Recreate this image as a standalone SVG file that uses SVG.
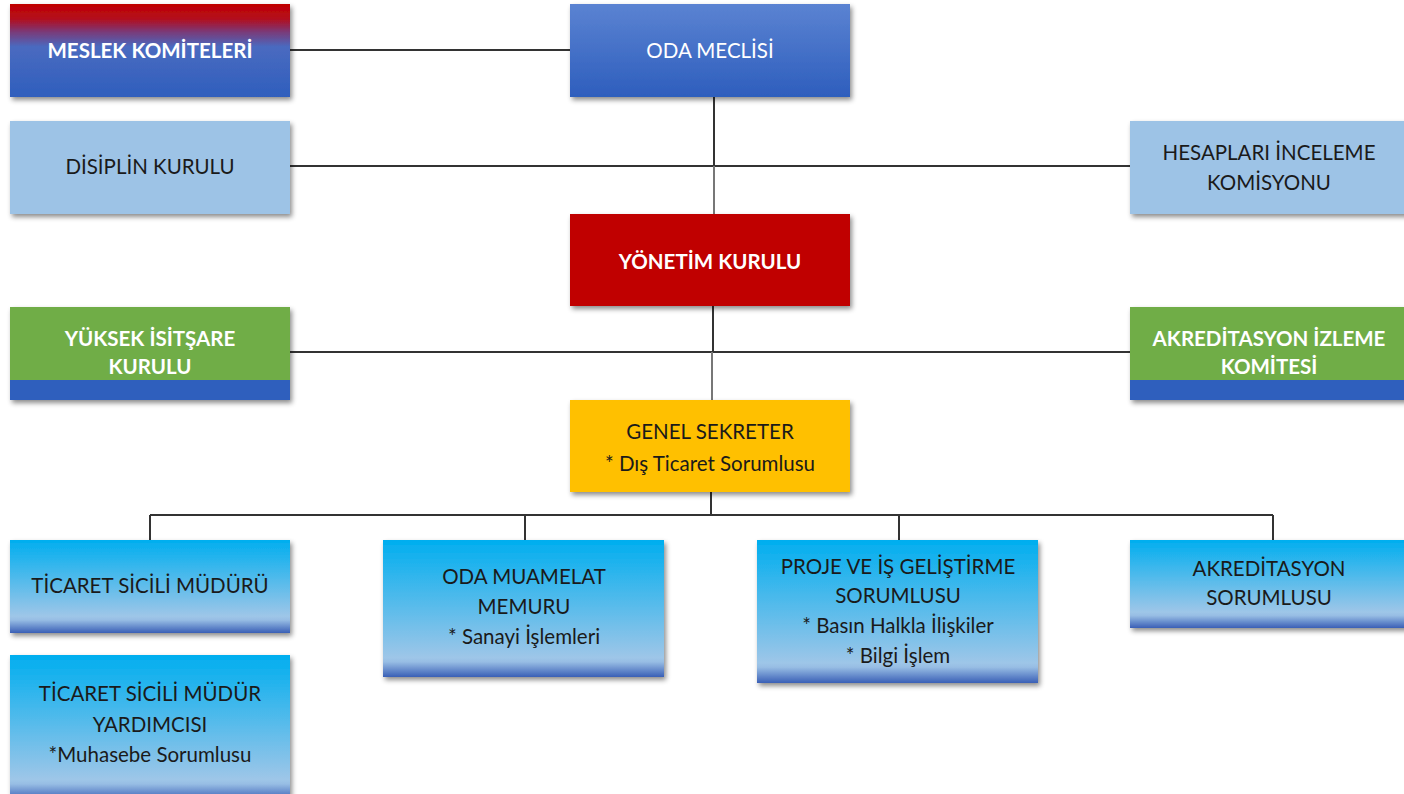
<svg xmlns="http://www.w3.org/2000/svg" width="1404" height="794" viewBox="0 0 1404 794">
<defs>
<linearGradient id="gMeslek" x1="0" y1="0" x2="0" y2="1">
<stop offset="0" stop-color="#c00000"/>
<stop offset="0.16" stop-color="#b30d1d"/>
<stop offset="0.30" stop-color="#7a3a78"/>
<stop offset="0.46" stop-color="#4a6ac0"/>
<stop offset="1" stop-color="#2f5fbd"/>
</linearGradient>
<linearGradient id="gOda" x1="0" y1="0" x2="0" y2="1">
<stop offset="0" stop-color="#5b83d2"/>
<stop offset="1" stop-color="#2e5ebd"/>
</linearGradient>
<linearGradient id="gCyan" x1="0" y1="0" x2="0" y2="1">
<stop offset="0" stop-color="#00aeef"/>
<stop offset="0.82" stop-color="#9ec6e8"/>
<stop offset="0.86" stop-color="#97bde4"/>
<stop offset="1" stop-color="#3a5fb6"/>
</linearGradient>
<linearGradient id="gCyanTall" x1="0" y1="0" x2="0" y2="1">
<stop offset="0" stop-color="#00aeef"/>
<stop offset="0.86" stop-color="#9ec6e8"/>
<stop offset="0.89" stop-color="#97bde4"/>
<stop offset="1" stop-color="#3a5fb6"/>
</linearGradient>
<filter id="sh" x="-5%" y="-10%" width="115%" height="125%">
<feDropShadow dx="2" dy="3" stdDeviation="2.5" flood-color="#000" flood-opacity="0.45"/>
</filter>
</defs>
<style>
.t{font-family:Lato,"Liberation Sans",sans-serif;font-size:20.5px;text-anchor:middle;}
.w{fill:#ffffff;font-weight:bold;}
.wr{fill:#ffffff;}
.d{fill:#1a1a1a;}
.ln{stroke:#333;stroke-width:2;fill:none;}
.lnl{stroke:#777;stroke-width:2;fill:none;}
</style>

<g id="connectors">
<line class="ln" x1="290" y1="50" x2="570" y2="50"/>
<line class="ln" x1="290" y1="166" x2="1130" y2="166"/>
<line class="ln" x1="714" y1="97" x2="714" y2="166" stroke="#111" stroke-width="3"/>
<line class="lnl" x1="714" y1="166" x2="714" y2="214"/>
<line class="ln" x1="290" y1="352" x2="1130" y2="352"/>
<line class="ln" x1="713" y1="306" x2="713" y2="352" stroke-width="3"/>
<line class="lnl" x1="712" y1="352" x2="712" y2="400"/>
<line class="ln" x1="711" y1="492" x2="711" y2="515" stroke="#111" stroke-width="3"/>
<line class="ln" x1="150" y1="515" x2="1273" y2="515" stroke="#111"/>
<line class="ln" x1="150" y1="515" x2="150" y2="540"/>
<line class="ln" x1="525" y1="515" x2="525" y2="540"/>
<line class="ln" x1="899" y1="515" x2="899" y2="540"/>
<line class="ln" x1="1273" y1="515" x2="1273" y2="540"/>
</g>

<g id="meslek">
<rect x="10" y="4" width="280" height="93" fill="url(#gMeslek)" filter="url(#sh)"/>
<text class="t w" x="150" y="58">MESLEK KOMİTELERİ</text>
</g>

<g id="oda-meclisi">
<rect x="570" y="4" width="280" height="93" fill="url(#gOda)" filter="url(#sh)"/>
<text class="t wr" x="710" y="58">ODA MECLİSİ</text>
</g>

<g id="disiplin">
<rect x="10" y="121" width="280" height="93" fill="#9dc3e6" filter="url(#sh)"/>
<text class="t d" x="150" y="174">DİSİPLİN KURULU</text>
</g>

<g id="hesaplari">
<rect x="1130" y="121" width="278" height="93" fill="#9dc3e6" filter="url(#sh)"/>
<text class="t d" x="1269" y="160">HESAPLARI İNCELEME</text>
<text class="t d" x="1269" y="190">KOMİSYONU</text>
</g>

<g id="yonetim">
<rect x="570" y="214" width="280" height="92" fill="#c00000" filter="url(#sh)"/>
<text class="t w" x="710" y="269">YÖNETİM KURULU</text>
</g>

<g id="yuksek">
<rect x="10" y="307" width="280" height="93" fill="#70ad47" filter="url(#sh)"/>
<rect x="10" y="380" width="280" height="20" fill="#2f5fbd"/>
<text class="t w" x="150" y="346">YÜKSEK İSİTŞARE</text>
<text class="t w" x="150" y="374">KURULU</text>
</g>

<g id="akreditasyon-izleme">
<rect x="1130" y="307" width="278" height="93" fill="#70ad47" filter="url(#sh)"/>
<rect x="1130" y="380" width="278" height="20" fill="#2f5fbd"/>
<text class="t w" x="1269" y="346">AKREDİTASYON İZLEME</text>
<text class="t w" x="1269" y="374">KOMİTESİ</text>
</g>

<g id="genel-sekreter">
<rect x="570" y="400" width="280" height="92" fill="#ffc000" filter="url(#sh)"/>
<text class="t d" x="710" y="439">GENEL SEKRETER</text>
<text class="t d" x="710" y="471">* Dış Ticaret Sorumlusu</text>
</g>

<g id="ticaret-sicili">
<rect x="10" y="540" width="280" height="93" fill="url(#gCyan)" filter="url(#sh)"/>
<text class="t d" x="150" y="593">TİCARET SİCİLİ MÜDÜRÜ</text>
</g>

<g id="oda-muamelat">
<rect x="383" y="540" width="281" height="137" fill="url(#gCyanTall)" filter="url(#sh)"/>
<text class="t d" x="524" y="584">ODA MUAMELAT</text>
<text class="t d" x="524" y="614">MEMURU</text>
<text class="t d" x="524" y="644">* Sanayi İşlemleri</text>
</g>

<g id="proje">
<rect x="757" y="540" width="281" height="143" fill="url(#gCyanTall)" filter="url(#sh)"/>
<text class="t d" x="898" y="574">PROJE VE İŞ GELİŞTİRME</text>
<text class="t d" x="898" y="603">SORUMLUSU</text>
<text class="t d" x="898" y="633">* Basın Halkla İlişkiler</text>
<text class="t d" x="898" y="663">* Bilgi İşlem</text>
</g>

<g id="akreditasyon-sorumlusu">
<rect x="1130" y="540" width="278" height="88" fill="url(#gCyan)" filter="url(#sh)"/>
<text class="t d" x="1269" y="576">AKREDİTASYON</text>
<text class="t d" x="1269" y="605">SORUMLUSU</text>
</g>

<g id="ticaret-sicili-yardimcisi">
<rect x="10" y="655" width="280" height="145" fill="url(#gCyanTall)" filter="url(#sh)"/>
<text class="t d" x="150" y="701">TİCARET SİCİLİ MÜDÜR</text>
<text class="t d" x="150" y="732">YARDIMCISI</text>
<text class="t d" x="150" y="762">*Muhasebe Sorumlusu</text>
</g>
</svg>
